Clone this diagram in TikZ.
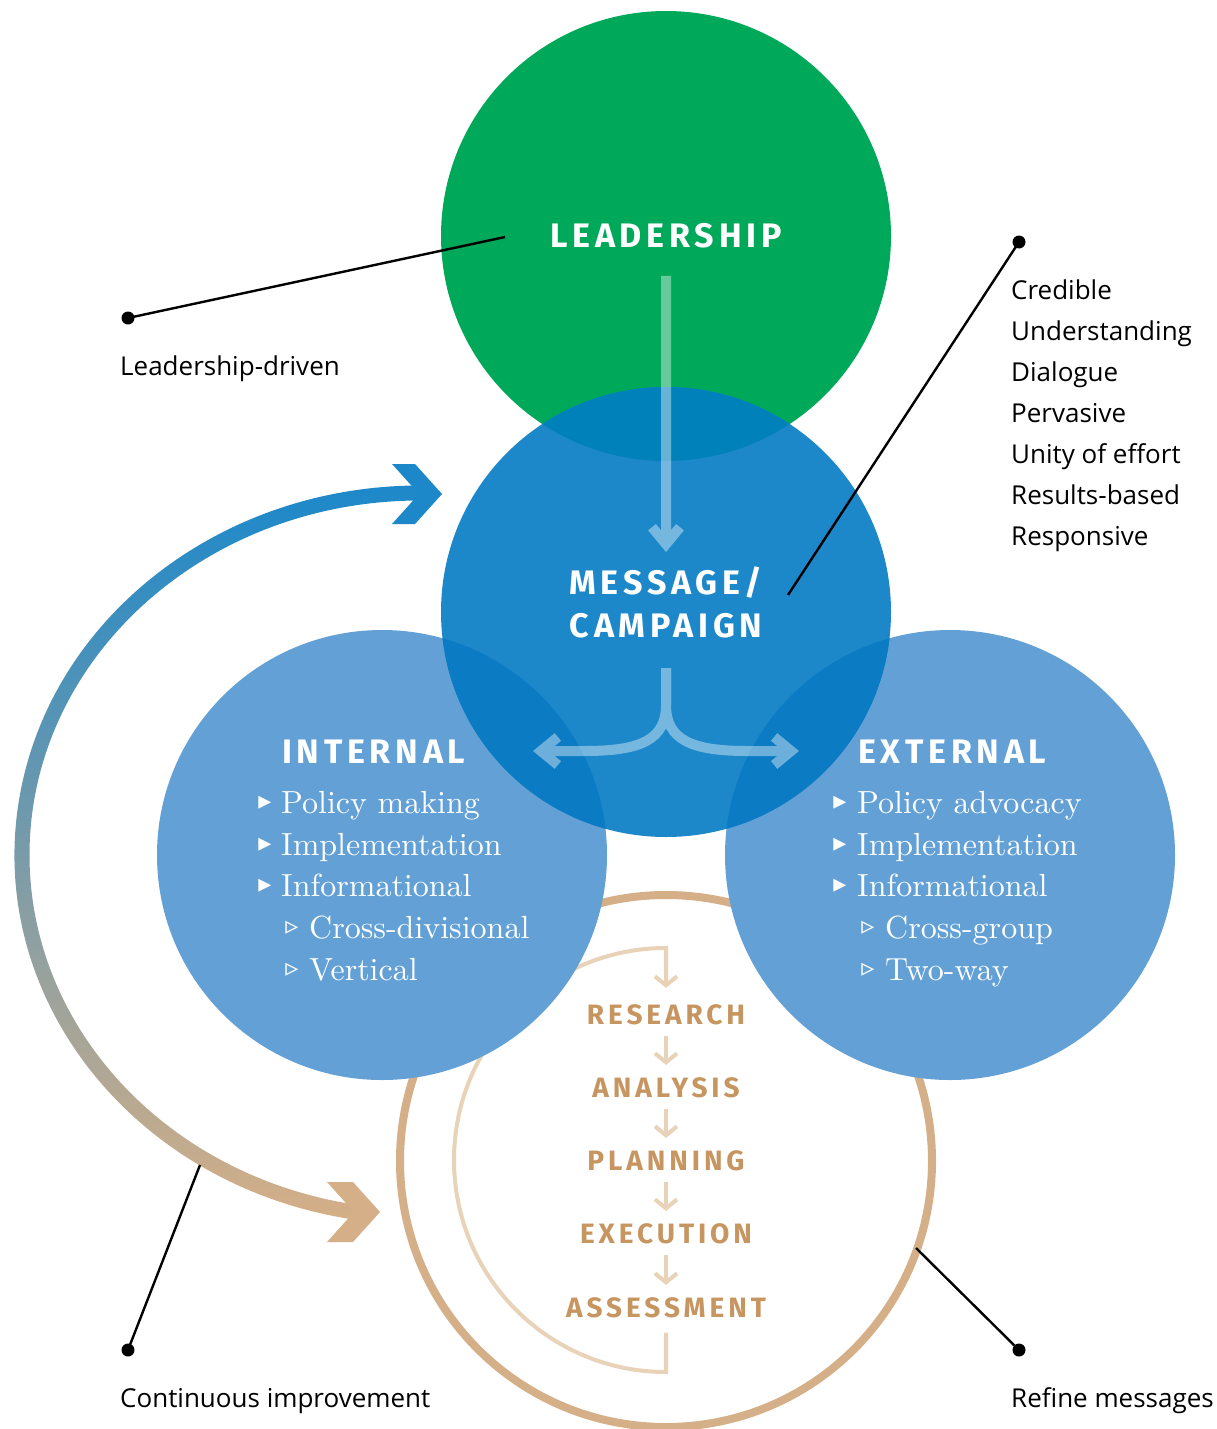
\documentclass[tikz,border=0pt]{standalone}
\usepackage{fontspec}
\usepackage{tikz}
\usetikzlibrary{positioning, calc, arrows.meta}

\newfontfamily\notefont{Open Sans}
\newfontfamily\headfont[LetterSpace=14]{Fira Sans}
\newfontfamily\itemfont{lmroman10-regular.otf}
\newfontfamily\symfont{DejaVu Sans}

\definecolor{leadgreen}{HTML}{00A859}
\definecolor{msgblue}{HTML}{1C88CA}
\definecolor{greenover}{HTML}{0081BA}
\definecolor{lightblue}{HTML}{62A0D6}
\definecolor{blueover}{HTML}{0B7BC3}
\definecolor{ringtan}{HTML}{D5AF87}
\definecolor{innertan}{HTML}{E8D3B8}
\definecolor{stagetan}{HTML}{C69560}

\begin{document}
\begin{tikzpicture}[x=1pt, y=-1pt,
    note/.style={font=\notefont\fontsize{26}{30}\selectfont, inner sep=0, anchor=base west},
    head/.style={font=\headfont\bfseries\fontsize{34}{38}\selectfont, text=white, inner sep=0, anchor=base},
    item/.style={font=\itemfont\fontsize{32}{36}\selectfont, text=white, inner sep=0, anchor=base west},
    bulletmark/.style={font=\symfont\fontsize{26}{28}\selectfont, text=white, inner sep=0},
    stage/.style={font=\headfont\bfseries\fontsize{28}{32}\selectfont, text=stagetan, inner sep=0, anchor=base},
    dot/.style={circle, fill=black, inner sep=0, minimum size=13pt},
    pointer/.style={line width=2.4pt},
    steparrow/.style={draw=innertan, line width=4pt, -{Straight Barb[length=9pt,width=22pt]}},
    flow/.style={draw=white, line width=10pt, -{Straight Barb[length=17pt,width=28pt]}},
]

\fill[white] (0,0) rectangle (1216,1429);
\useasboundingbox (0,0) rectangle (1216,1429);

\def\rad{225}
\coordinate (lead) at (666,236);
\coordinate (msg) at (666,612);
\coordinate (int) at (382,855);
\coordinate (ext) at (950,855);
\coordinate (loop) at (666,1161);

% continuous improvement cycle
\def\cx{420}
\def\cy{855}
\shade[top color=msgblue, bottom color=ringtan]
  ($(\cx,\cy)+(99:405.5 and 369.5)$) arc[start angle=99, end angle=270, x radius=405.5, y radius=369.5]
  -- ($(\cx,\cy)+(270:390.5 and 354.5)$) arc[start angle=270, end angle=99, x radius=390.5, y radius=354.5] -- cycle;
\fill[msgblue] (442,494) -- (415,464) -- (392,464) -- (419,494) -- (392,524) -- (415,524) -- cycle;
\fill[ringtan] (380,1212) -- (353,1182) -- (327,1182) -- (354,1212) -- (327,1242) -- (353,1242) -- cycle;

% process ring
\draw[ringtan, line width=8pt] (loop) circle[radius=266];
\node[stage] (research) at (666,1024) {RESEARCH};
\node[stage] (analysis) at (666,1097) {ANALYSIS};
\node[stage] (planning) at (666,1170) {PLANNING};
\node[stage] (execution) at (666,1243) {EXECUTION};
\node[stage] (assessment) at (666,1317) {ASSESSMENT};
\coordinate (looptop) at (666,949);
\coordinate (loopbot) at (666,1372);
\draw[steparrow, shorten >=16pt] (assessment.south) ++(0,15) -- (loopbot)
  arc[start angle=90, end angle=270, radius=212] -- (looptop) -- (research);
\foreach \a/\b in {research/analysis, analysis/planning, planning/execution, execution/assessment}
  \draw[steparrow, shorten <=11pt, shorten >=12pt] (\a) -- (\b);

% circles
\fill[lightblue] (int) circle[radius=\rad];
\fill[lightblue] (ext) circle[radius=\rad];
\fill[leadgreen] (lead) circle[radius=\rad];
\fill[msgblue] (msg) circle[radius=\rad];
\begin{scope}
  \clip (msg) circle[radius=\rad];
  \fill[greenover] (lead) circle[radius=\rad];
  \fill[blueover] (int) circle[radius=\rad];
  \fill[blueover] (ext) circle[radius=\rad];
\end{scope}

% titles
\node[head] (leadtitle) at (666,247) {LEADERSHIP};
\node[head] (msgtop) at (666,594) {MESSAGE/};
\node[head] (msgbot) at (666,637) {CAMPAIGN};
\node[head, anchor=base west] (inttitle) at (282,763) {INTERNAL};
\node[head, anchor=base west] (exttitle) at (858,763) {EXTERNAL};

% flows
\coordinate (split) at (666,668);
\coordinate (toint) at (533,751);
\coordinate (toext) at (799,751);
\begin{scope}[transparency group, opacity=0.4]
  \draw[flow, shorten <=28pt, shorten >=14pt] (leadtitle) -- (msgtop);
  \draw[flow] (split) -- (666,705) .. controls (666,740) and (640,751) .. (585,751) -- (toint);
  \draw[flow] (split) -- (666,705) .. controls (666,740) and (692,751) .. (747,751) -- (toext);
\end{scope}

% lists
\foreach \txt/\yy [count=\i] in {Policy making/813, Implementation/855, Informational/896} {
  \node[bulletmark] (intmark\i) at (265,\yy-10) {▸};
  \node[item] (intitem\i) at (281,\yy) {\txt};
}
\foreach \txt/\yy [count=\i] in {Cross-divisional/938, Vertical/980} {
  \node[bulletmark] (intsubmark\i) at (292,\yy-10) {▹};
  \node[item] (intsubitem\i) at (309,\yy) {\txt};
}
\foreach \txt/\yy [count=\i] in {Policy advocacy/813, Implementation/855, Informational/896} {
  \node[bulletmark] (extmark\i) at (840,\yy-10) {▸};
  \node[item] (extitem\i) at (857,\yy) {\txt};
}
\foreach \txt/\yy [count=\i] in {Cross-group/938, Two-way/980} {
  \node[bulletmark] (extsubmark\i) at (868,\yy-10) {▹};
  \node[item] (extsubitem\i) at (885,\yy) {\txt};
}

% annotations
\node[dot] (leaddot) at (128,318) {};
\coordinate (leadpt) at (505,237);
\draw[pointer] (leaddot.center) -- (leadpt);
\node[note] (leadnote) at (120,375) {Leadership-driven};

\node[dot] (qualdot) at (1019,242) {};
\coordinate (qualpt) at (788,595);
\draw[pointer] (qualdot.center) -- (qualpt);
\foreach \txt [count=\i] in {Credible, Understanding, Dialogue, Pervasive, Unity of effort, Results-based, Responsive}
  \node[note] (quality\i) at (1011, {299+41*(\i-1)}) {\txt};

\node[dot] (cycdot) at (128,1350) {};
\coordinate (cycpt) at (200,1165);
\draw[pointer] (cycdot.center) -- (cycpt);
\node[note] (cycnote) at (120,1407) {Continuous improvement};

\node[dot] (refdot) at (1019,1350) {};
\coordinate (refpt) at (916,1248);
\draw[pointer] (refdot.center) -- (refpt);
\node[note] (refnote) at (1011,1407) {Refine messages};

\end{tikzpicture}
\end{document}
